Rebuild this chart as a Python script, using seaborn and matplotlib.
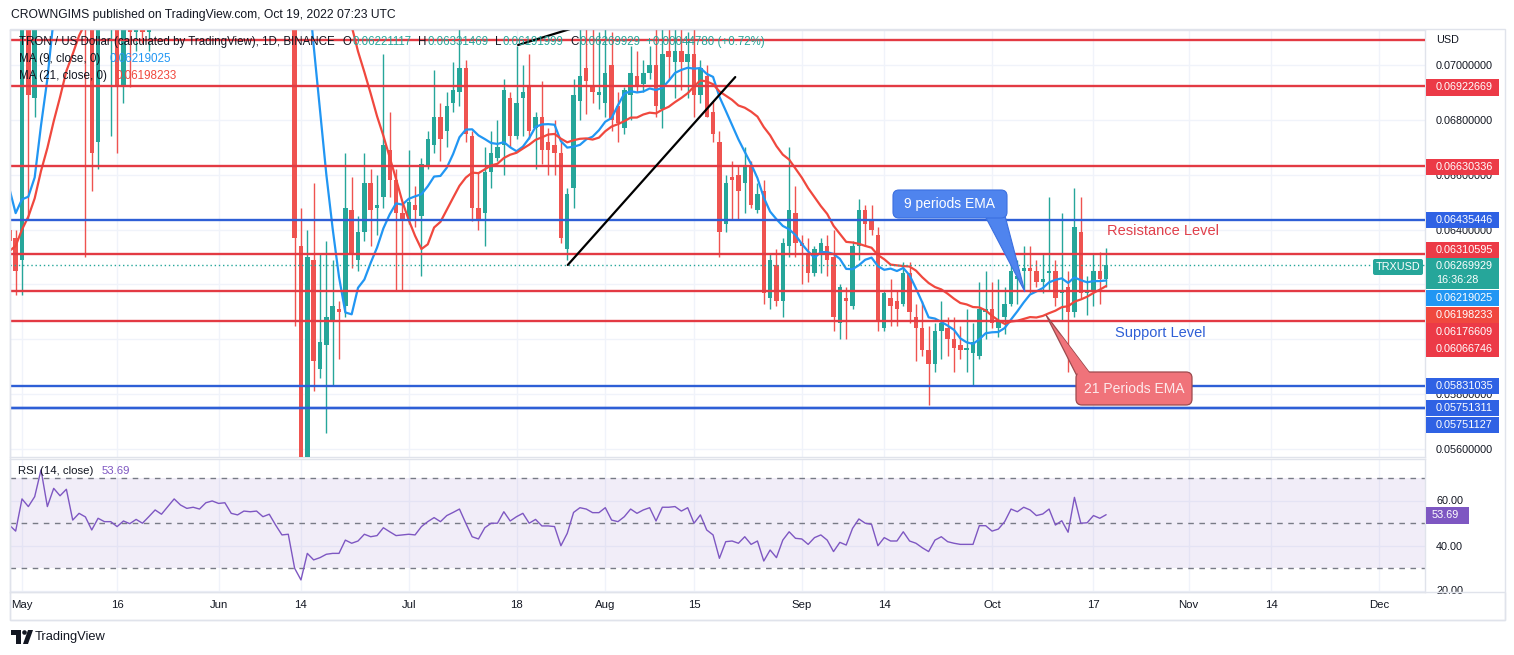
import matplotlib
matplotlib.use('Agg')
import matplotlib.pyplot as plt
import matplotlib.dates as mdates
import matplotlib.transforms as mtransforms
from matplotlib.patches import Rectangle, Polygon, FancyBboxPatch, Circle
import numpy as np
import pandas as pd
import seaborn as sns

W, H = 1514, 655

# daily TRXUSD candles, 2022-04-29 .. 2022-10-19
first_day = '2022-04-29'
# closes of the 20 days before the first candle (only used to start the moving averages)
warmup_close = [0.0585, 0.0600, 0.0590, 0.0600, 0.0610, 0.0605, 0.0615, 0.0620, 0.0625, 0.0630,
                0.0640, 0.0660, 0.0706, 0.0680, 0.0680, 0.0677, 0.0649, 0.0628, 0.0620, 0.0619]

opens = [0.0640, 0.0637,
         0.0629, 0.0725, 0.0688, 0.0740, 0.0820, 0.0780, 0.0820, 0.0805, 0.0825, 0.0760,
         0.0780, 0.0760, 0.0672, 0.0745, 0.0742, 0.0745, 0.0692, 0.0730, 0.0712, 0.0716,
         0.0712, 0.0735, 0.0765, 0.0755, 0.0785, 0.0815, 0.0805, 0.0798, 0.0802, 0.0798, 0.0825,
         0.0835, 0.0828, 0.0832, 0.0815, 0.0812, 0.0822, 0.0821, 0.0823, 0.0812, 0.0818,
         0.0790, 0.0768, 0.0765, 0.0634, 0.0552, 0.0629, 0.0589, 0.0598, 0.0607, 0.0611,
         0.0612, 0.0647, 0.0629, 0.0639, 0.0657, 0.0648, 0.0652, 0.0669, 0.0658, 0.0646,
         0.0644, 0.0649, 0.0645, 0.0663, 0.0671, 0.0681, 0.0676, 0.0686, 0.0690, 0.0699,
         0.0674, 0.0648, 0.0646, 0.0661, 0.0666, 0.0671, 0.0688, 0.0674, 0.0688, 0.0692,
         0.0677, 0.0681, 0.0672, 0.0671, 0.0668, 0.0633, 0.0655, 0.0687, 0.0699, 0.0692, 0.0689,
         0.0686, 0.0700, 0.0685, 0.0677, 0.0689, 0.0696, 0.0693, 0.0697, 0.0700, 0.0684,
         0.0705, 0.0701, 0.0705, 0.0701, 0.0704, 0.0689, 0.0696, 0.0683, 0.0672, 0.0642,
         0.0659, 0.0660, 0.0657, 0.0663, 0.0647, 0.0654, 0.0615, 0.0627, 0.0614, 0.0634, 0.0646,
         0.0635, 0.0631, 0.0624, 0.0631, 0.0634, 0.0630, 0.0606, 0.0615, 0.0612, 0.0634,
         0.0647, 0.0643, 0.0638, 0.0604, 0.0615, 0.0614, 0.0613, 0.0624, 0.0608, 0.0604,
         0.0596, 0.0591, 0.0603, 0.0604, 0.0600, 0.0598, 0.0596, 0.0595, 0.0594, 0.0610,
         0.0611, 0.0604, 0.0608, 0.0613, 0.0622, 0.0625, 0.0626, 0.0625, 0.0621, 0.0624,
         0.0625, 0.0617, 0.0619, 0.0610, 0.0639, 0.0617, 0.0618, 0.0625, 0.06221117]

highs = [0.0702, 0.0640,
         0.0740, 0.0745, 0.0760, 0.0840, 0.0850, 0.0835, 0.0830, 0.0840, 0.0830, 0.0800,
         0.0795, 0.0772, 0.0760, 0.0765, 0.0760, 0.0755, 0.0745, 0.0740, 0.0725, 0.0730,
         0.0745, 0.0775, 0.0780, 0.0795, 0.0825, 0.0822, 0.0815, 0.0810, 0.0808, 0.0835, 0.0845,
         0.0840, 0.0840, 0.0835, 0.0825, 0.0830, 0.0832, 0.0835, 0.0828, 0.0825, 0.0822,
         0.0795, 0.0780, 0.0772, 0.0648, 0.0640, 0.0657, 0.0631, 0.0636, 0.0629, 0.0614,
         0.0668, 0.0659, 0.0645, 0.0668, 0.0662, 0.0660, 0.0704, 0.0683, 0.0662, 0.0650,
         0.0669, 0.0656, 0.0666, 0.0676, 0.0698, 0.0686, 0.0690, 0.0701, 0.0714, 0.0702,
         0.0676, 0.0661, 0.0670, 0.0676, 0.0680, 0.0695, 0.0690, 0.0707, 0.0700, 0.0704,
         0.0683, 0.0694, 0.0677, 0.0680, 0.0672, 0.0655, 0.0695, 0.0716, 0.0716, 0.0714, 0.0712,
         0.0716, 0.0712, 0.0690, 0.0692, 0.0707, 0.0705, 0.0702, 0.0707, 0.0716, 0.0716,
         0.0715, 0.0716, 0.0714, 0.0712, 0.0714, 0.0702, 0.0700, 0.0687, 0.0676, 0.0660,
         0.0665, 0.0663, 0.0670, 0.0665, 0.0657, 0.0658, 0.0631, 0.0633, 0.0637, 0.0670, 0.0656,
         0.0638, 0.0637, 0.0634, 0.0637, 0.0638, 0.0640, 0.0620, 0.0619, 0.0636, 0.0651,
         0.0649, 0.0649, 0.0641, 0.0618, 0.0622, 0.0618, 0.0628, 0.0628, 0.0613, 0.0614,
         0.0605, 0.0606, 0.0614, 0.0608, 0.0608, 0.0605, 0.0611, 0.0606, 0.0621, 0.0625,
         0.0621, 0.0622, 0.0619, 0.0631, 0.0629, 0.0634, 0.0634, 0.0629, 0.0631, 0.0652,
         0.0629, 0.0646, 0.0625, 0.0655, 0.0652, 0.0623, 0.0631, 0.0632, 0.06331469]

lows = [0.0628, 0.0616,
        0.0616, 0.0644, 0.0681, 0.0735, 0.0770, 0.0772, 0.0795, 0.0800, 0.0740, 0.0745,
        0.0630, 0.0654, 0.0662, 0.0725, 0.0674, 0.0668, 0.0686, 0.0692, 0.0705, 0.0708,
        0.0705, 0.0728, 0.0745, 0.0750, 0.0780, 0.0795, 0.0790, 0.0792, 0.0790, 0.0795, 0.0818,
        0.0815, 0.0820, 0.0805, 0.0805, 0.0808, 0.0812, 0.0815, 0.0802, 0.0805, 0.0780,
        0.0760, 0.0755, 0.0605, 0.0545, 0.0540, 0.0581, 0.0586, 0.0566, 0.0583, 0.0593,
        0.0608, 0.0626, 0.0625, 0.0636, 0.0634, 0.0638, 0.0648, 0.0652, 0.0618, 0.0618,
        0.0642, 0.0641, 0.0623, 0.0662, 0.0668, 0.0665, 0.0670, 0.0683, 0.0685, 0.0672,
        0.0643, 0.0640, 0.0634, 0.0655, 0.0665, 0.0660, 0.0670, 0.0673, 0.0674, 0.0673,
        0.0662, 0.0664, 0.0660, 0.0660, 0.0635, 0.0629, 0.0648, 0.0680, 0.0682, 0.0686, 0.0684,
        0.0681, 0.0676, 0.0672, 0.0675, 0.0680, 0.0690, 0.0690, 0.0695, 0.0681, 0.0677,
        0.0695, 0.0688, 0.0691, 0.0688, 0.0681, 0.0686, 0.0681, 0.0672, 0.0630, 0.0639,
        0.0644, 0.0644, 0.0646, 0.0648, 0.0646, 0.0613, 0.0611, 0.0612, 0.0608, 0.0630, 0.0630,
        0.0620, 0.0621, 0.0623, 0.0624, 0.0623, 0.0603, 0.0600, 0.0600, 0.0611, 0.0629,
        0.0634, 0.0638, 0.0603, 0.0603, 0.0605, 0.0605, 0.0612, 0.0606, 0.0592, 0.0594,
        0.0576, 0.0588, 0.0593, 0.0594, 0.0588, 0.0593, 0.0588, 0.0583, 0.0593, 0.0600,
        0.0604, 0.0601, 0.0602, 0.0612, 0.0613, 0.0618, 0.0617, 0.0619, 0.0617, 0.0618,
        0.0612, 0.0607, 0.0588, 0.0608, 0.0615, 0.0609, 0.0612, 0.0613, 0.06191999]

closes = [0.0636, 0.0625,
          0.0725, 0.0689, 0.0740, 0.0820, 0.0780, 0.0820, 0.0805, 0.0825, 0.0760, 0.0780,
          0.0760, 0.0668, 0.0745, 0.0742, 0.0745, 0.0692, 0.0730, 0.0712, 0.0716, 0.0712,
          0.0735, 0.0765, 0.0755, 0.0785, 0.0815, 0.0805, 0.0798, 0.0802, 0.0798, 0.0825, 0.0835,
          0.0828, 0.0832, 0.0815, 0.0812, 0.0822, 0.0821, 0.0823, 0.0812, 0.0818, 0.0790,
          0.0768, 0.0765, 0.0637, 0.0552, 0.0630, 0.0592, 0.0599, 0.0608, 0.0612, 0.0610,
          0.0648, 0.0631, 0.0639, 0.0657, 0.0647, 0.0649, 0.0671, 0.0658, 0.0646, 0.0644,
          0.0650, 0.0647, 0.0664, 0.0673, 0.0681, 0.0673, 0.0685, 0.0691, 0.0699, 0.0675,
          0.0648, 0.0644, 0.0661, 0.0668, 0.0670, 0.0691, 0.0674, 0.0686, 0.0690, 0.0676,
          0.0681, 0.0669, 0.0669, 0.0668, 0.0637, 0.0653, 0.0689, 0.0696, 0.0694, 0.0690, 0.0690,
          0.0697, 0.0680, 0.0679, 0.0691, 0.0697, 0.0692, 0.0697, 0.0700, 0.0685, 0.0704,
          0.0703, 0.0705, 0.0701, 0.0704, 0.0689, 0.0699, 0.0681, 0.0675, 0.0639, 0.0657,
          0.0658, 0.0654, 0.0663, 0.0649, 0.0653, 0.0617, 0.0629, 0.0614, 0.0635, 0.0647, 0.0635,
          0.0634, 0.0624, 0.0633, 0.0635, 0.0629, 0.0608, 0.0619, 0.0614, 0.0634, 0.0647,
          0.0642, 0.0640, 0.0607, 0.0617, 0.0612, 0.0611, 0.0624, 0.0610, 0.0604, 0.0596,
          0.0591, 0.0603, 0.0606, 0.0600, 0.0597, 0.0596, 0.0597, 0.0599, 0.0611, 0.0611,
          0.0606, 0.0607, 0.0613, 0.0625, 0.0623, 0.0626, 0.0625, 0.0621, 0.0622, 0.0625,
          0.0615, 0.0618, 0.0610, 0.0641, 0.0617, 0.0618, 0.0625, 0.0622, 0.06269929]

rsi = [49.1, 46.4, 60.7, 57.3, 61.7, 73.6, 57.3, 65.4, 62.1, 65.0,
       51.3, 54.3, 52.7, 46.9, 52.1, 50.6, 50.6, 48.4, 50.9, 49.7,
       51.6, 49.9, 52.8, 55.8, 53.9, 57.3, 60.7, 58.0, 56.5, 57.0,
       56.2, 59.0, 59.8, 58.7, 59.0, 54.3, 53.6, 55.3, 55.0, 55.3,
       52.8, 53.9, 49.1, 44.7, 45.0, 29.9, 24.7, 36.5, 33.6, 34.6,
       36.1, 36.5, 36.5, 42.4, 41.0, 42.0, 45.0, 43.9, 44.4, 47.9,
       46.1, 44.4, 44.7, 45.0, 44.7, 48.4, 50.6, 52.4, 50.6, 53.3,
       54.7, 56.2, 49.9, 43.9, 42.9, 47.9, 49.9, 49.9, 55.0, 50.9,
       52.8, 54.3, 49.9, 51.6, 48.7, 48.7, 48.4, 39.9, 45.4, 54.7,
       56.8, 56.2, 54.6, 54.6, 56.8, 51.3, 50.6, 52.8, 56.2, 54.3,
       55.8, 56.8, 50.9, 57.0, 57.0, 57.3, 55.3, 56.8, 49.9, 53.6,
       46.9, 44.7, 34.3, 41.7, 42.0, 41.0, 43.9, 40.5, 42.0,
       33.1, 38.0, 34.6, 42.4, 46.1, 43.2, 42.9, 40.5, 43.5, 44.7,
       42.4, 37.3, 41.4, 40.2, 47.6, 51.8, 49.9, 49.4, 39.9, 43.5,
       42.0, 42.0, 46.1, 42.0, 41.0, 39.0, 37.3, 42.4, 43.9, 41.7,
       41.0, 40.5, 40.5, 40.5, 48.8, 48.8, 46.4, 47.3, 50.6, 56.2,
       55.0, 57.0, 55.8, 53.3, 54.0, 56.2, 49.1, 51.0, 45.9, 61.4,
       49.9, 50.1, 53.3, 52.1, 53.69]

# drawn levels
red_levels = [0.07091, 0.06922669, 0.06630336, 0.06310595, 0.06176609, 0.06066746]
blue_levels = [0.06435446, 0.05831035, 0.05751311, 0.05751127]
last_price = 0.06269929
ma9_last, ma21_last, rsi_last = '0.06219025', '0.06198233', '53.69'

# trend lines drawn on the chart
trend1_dates = ['2022-07-26 02:00', '2022-08-21 12:00']
trend1_prices = [0.06271, 0.06956]
trend2_dates = ['2022-07-18 06:00', '2022-08-05 00:00']
trend2_prices = [0.07073, 0.07199]

tick_dates = ['2022-05-01', '2022-05-16', '2022-06-01', '2022-06-14', '2022-07-01', '2022-07-18',
              '2022-08-01', '2022-08-15', '2022-09-01', '2022-09-14', '2022-10-01', '2022-10-17',
              '2022-11-01', '2022-11-14', '2022-12-01']
tick_names = ['May', '16', 'Jun', '14', 'Jul', '18', 'Aug', '15', 'Sep', '14', 'Oct', '17',
              'Nov', '14', 'Dec']
price_ticks = [0.056, 0.058, 0.060, 0.062, 0.064, 0.066, 0.068, 0.070]
# tick labels fully covered by the price tags are not shown
hidden_ticks = [0.060, 0.062]

# ---------------------------------------------------------------- colours
INK = '#131722'
GREEN = '#26a69a'
RED = '#ef5350'
LVL_RED = '#e33a43'
LVL_BLUE = '#2e5fd6'
TAG_RED = '#ec3a47'
TAG_BLUE = '#2f62e4'
MA9_C = '#2196f3'
MA21_C = '#f0483e'
RSI_C = '#7e57c2'
GRID = '#f0f3fa'
EDGE = '#e0e3eb'

df = pd.DataFrame({'date': pd.date_range(first_day, periods=len(closes), freq='D'),
                   'open': opens, 'high': highs, 'low': lows, 'close': closes, 'rsi': rsi})
df['x'] = mdates.date2num(df['date'])
all_close = pd.Series(warmup_close + closes)
df['ma9'] = all_close.rolling(9).mean().iloc[len(warmup_close):].values
df['ma21'] = all_close.rolling(21).mean().iloc[len(warmup_close):].values

sns.set_theme(style='white')
plt.rcParams['font.family'] = ['Liberation Sans', 'DejaVu Sans']

fig = plt.figure(figsize=(W / 100, H / 100), dpi=100)
fig.patch.set_facecolor('white')
pix = mtransforms.Affine2D().scale(1 / W, -1 / H).translate(0, 1) + fig.transFigure

ax = fig.add_axes([10 / W, 1 - 457 / H, 1415 / W, 427 / H])
ax_r = fig.add_axes([10 / W, 1 - 592 / H, 1415 / W, 133 / H], sharex=ax)

# price scale: 0.001 = 27.43 px, 0.07 at y=65
ppx = 0.001 / 27.43
y_top = 0.07 + (65 - 30) * ppx
y_bot = 0.07 - (457 - 65) * ppx
ax.set_ylim(y_bot, y_top)
x_may = mdates.date2num(pd.Timestamp('2022-05-01'))
day_px = 6.34
ax.set_xlim(x_may - 12 / day_px, x_may + 1403 / day_px)

# candles
up = df['close'] >= df['open']
col = np.where(up, GREEN, RED)
ax.vlines(df['x'], df['low'], df['high'], colors=col, lw=1, zorder=3)
body = (df['close'] - df['open']).abs().clip(lower=0.00004)
ax.bar(df['x'], body, bottom=df[['open', 'close']].min(axis=1), width=0.7,
       color=col, linewidth=0, zorder=4)

# moving averages
sns.lineplot(x=df['x'], y=df['ma9'], ax=ax, color=MA9_C, lw=1.6, zorder=5, legend=False)
sns.lineplot(x=df['x'], y=df['ma21'], ax=ax, color=MA21_C, lw=1.6, zorder=5, legend=False)

for v in red_levels:
    ax.axhline(v, color=LVL_RED, lw=1.7, zorder=6)
for v in blue_levels:
    ax.axhline(v, color=LVL_BLUE, lw=1.7, zorder=6)
ax.axhline(last_price, color=GREEN, lw=1, ls=(0, (1, 2)), zorder=6)

for dts, prs in [(trend1_dates, trend1_prices), (trend2_dates, trend2_prices)]:
    ax.plot(mdates.date2num(pd.to_datetime(dts)), prs, color='black', lw=1.6, zorder=7)

# axes cosmetics
tick_x = mdates.date2num(pd.to_datetime(tick_dates))
ax_r.set_xticks(tick_x)
ax_r.set_xticklabels(tick_names)
ax.tick_params(axis='x', labelbottom=False, length=0)
ax.set_yticks(price_ticks)
ax.set_yticklabels(['' if any(abs(v - h) < 1e-9 for h in hidden_ticks) else f'{v:.8f}'
                    for v in price_ticks])
ax.yaxis.tick_right()
ax.tick_params(axis='y', length=0, pad=8, labelsize=7.8, labelcolor=INK)
ax.grid(True, color=GRID, lw=1)
ax.set_xlabel('')
ax.set_ylabel('')
for a in (ax, ax_r):
    for s in a.spines.values():
        s.set_color(EDGE)
        s.set_linewidth(1)

# RSI pane
ax_r.set_ylim(50 - (592 - 523) / 2.25, 50 + (523 - 459) / 2.25)
ax_r.axhspan(30, 70, color=RSI_C, alpha=0.1, lw=0, zorder=1)
for lv in (70, 50, 30):
    ax_r.axhline(lv, color='#787b86', lw=1, ls=(0, (4, 4)), zorder=2)
sns.lineplot(x=df['x'], y=df['rsi'], ax=ax_r, color=RSI_C, lw=1, zorder=4, legend=False)
ax_r.set_yticks([20, 40, 60])
ax_r.set_yticklabels(['20.00', '40.00', '60.00'])
ax_r.yaxis.tick_right()
ax_r.tick_params(axis='y', length=0, pad=8, labelsize=7.8, labelcolor=INK)
ax_r.tick_params(axis='x', length=0, pad=6, labelsize=8.2, labelcolor=INK)
ax_r.grid(True, color=GRID, lw=1)
ax_r.set_xlabel('')
ax_r.set_ylabel('')

# right scale tags (text, colour, centre y in px)
tags = [('0.06922669', TAG_RED, 87.5), ('0.06630336', TAG_RED, 167),
        ('0.06435446', TAG_BLUE, 220), ('0.06310595', TAG_RED, 250),
        ('0.06219025', MA9_C, 298), ('0.06198233', MA21_C, 315),
        ('0.06176609', TAG_RED, 331.5), ('0.06066746', TAG_RED, 348.5),
        ('0.05831035', TAG_BLUE, 386), ('0.05751311', TAG_BLUE, 408),
        ('0.05751127', TAG_BLUE, 425)]
for txt, c, yc in tags:
    fig.add_artist(Rectangle((1426, yc - 8.3), 73, 16.6, transform=pix, fc=c, ec='none', zorder=10))
    fig.text(1436 / W, 1 - yc / H, txt, color='white', fontsize=7.8, va='center', ha='left', zorder=11)
fig.add_artist(Rectangle((1426, 258), 73, 31, transform=pix, fc=GREEN, ec='none', zorder=10))
fig.text(1436 / W, 1 - 266 / H, f'{last_price:.8f}', color='white', fontsize=7.8, va='center', zorder=11)
fig.text(1436 / W, 1 - 280 / H, '16:36:28', color='white', fontsize=7.8, va='center', zorder=11)
fig.add_artist(FancyBboxPatch((1373, 259), 50, 16, boxstyle='round,pad=0,rounding_size=2',
                              transform=pix, fc=GREEN, ec='none', zorder=10))
fig.text(1398 / W, 1 - 267 / H, 'TRXUSD', color='white', fontsize=7.8, va='center', ha='center', zorder=11)
fig.text(1436 / W, 1 - 40 / H, 'USD', color=INK, fontsize=7.8, va='center', zorder=11)
fig.add_artist(Rectangle((1426, 507), 43, 16.6, transform=pix, fc=RSI_C, ec='none', zorder=10))
fig.text(1432 / W, 1 - 515.3 / H, rsi_last, color='white', fontsize=7.8, va='center', zorder=11)

# frame lines
fig.add_artist(Rectangle((10, 29), 1495, 591, transform=pix, fill=False, ec=EDGE, lw=1, zorder=0.5))
fig.add_artist(Rectangle((10, 592), 1495, 28, transform=pix, fill=False, ec=EDGE, lw=1, zorder=0.5))


def text_run(px, py, parts, size):
    r = fig.canvas.get_renderer()
    x = px
    for s, c, gap in parts:
        t = fig.text(x / W, 1 - py / H, s, color=c, fontsize=size, ha='left', va='center', zorder=20)
        x += t.get_window_extent(renderer=r).width + gap


fig.text(11 / W, 1 - 15 / H, 'CROWNGIMS published on TradingView.com, Oct 19, 2022 07:23 UTC',
         color=INK, fontsize=8.7, va='center')
text_run(19, 42, [('TRON / US Dollar (calculated by TradingView), 1D, BINANCE', INK, 8),
                  ('O', INK, 0.5), ('0.06221117', GREEN, 7), ('H', INK, 0.5), ('0.06331469', GREEN, 7),
                  ('L', INK, 0.5), ('0.06191999', GREEN, 7), ('C', INK, 0.5), ('0.06269929', GREEN, 6),
                  ('+0.00044780 (+0.72%)', GREEN, 0)], 8.3)
text_run(19, 59, [('MA (9, close, 0)', INK, 9), (ma9_last, MA9_C, 0)], 8.4)
text_run(19, 76, [('MA (21, close, 0)', INK, 9), (ma21_last, MA21_C, 0)], 8.4)
text_run(18, 471, [('RSI (14, close)', INK, 8), (rsi_last, RSI_C, 0)], 8.2)

# callouts
fig.add_artist(Polygon([(984, 214), (1004, 212), (1025, 292)], closed=True, transform=pix,
                       fc='#4f84ee', ec='#3b6fe0', lw=0.8, zorder=12))
fig.add_artist(FancyBboxPatch((893, 190), 114, 28, boxstyle='round,pad=0,rounding_size=6',
                              transform=pix, fc='#4f84ee', ec='#3b6fe0', lw=0.8, zorder=12))
fig.text(950 / W, 1 - 204 / H, '9 periods EMA', color='white', fontsize=10, ha='center', va='center', zorder=13)
fig.add_artist(Polygon([(1077, 376), (1092, 376), (1046, 315)], closed=True, transform=pix,
                       fc='#f0737a', ec='#9c4a4e', lw=0.9, zorder=12))
fig.add_artist(FancyBboxPatch((1076, 372), 116, 33, boxstyle='round,pad=0,rounding_size=6',
                              transform=pix, fc='#f0737a', ec='#9c4a4e', lw=0.9, zorder=12))
fig.add_artist(Polygon([(1078, 375), (1091, 375), (1060, 334)], closed=True, transform=pix,
                       fc='#f0737a', ec='none', zorder=12.5))
fig.text(1134 / W, 1 - 389 / H, '21 Periods EMA', color='#fde9ea', fontsize=10, ha='center', va='center', zorder=13)
fig.text(1163 / W, 1 - 231 / H, 'Resistance Level', color='#e0404b', fontsize=10.5, ha='center', va='center', zorder=13)
fig.text(1160 / W, 1 - 333 / H, 'Support Level', color='#2e5fd6', fontsize=10.5, ha='center', va='center', zorder=13)

# footer logo
fig.add_artist(Polygon([(11, 630), (21, 630), (21, 644), (16, 644), (16, 635), (11, 635)],
                       closed=True, transform=pix, fc=INK, ec='none'))
fig.add_artist(Circle((24.5, 632.5), 2.3, transform=pix, fc=INK, ec='none'))
fig.add_artist(Polygon([(23, 644), (28, 630), (33, 630), (28, 644)], closed=True, transform=pix,
                       fc=INK, ec='none'))
fig.text(35 / W, 1 - 637 / H, 'TradingView', color=INK, fontsize=9.3, va='center')

fig.savefig('out.png', dpi=100, facecolor='white')
